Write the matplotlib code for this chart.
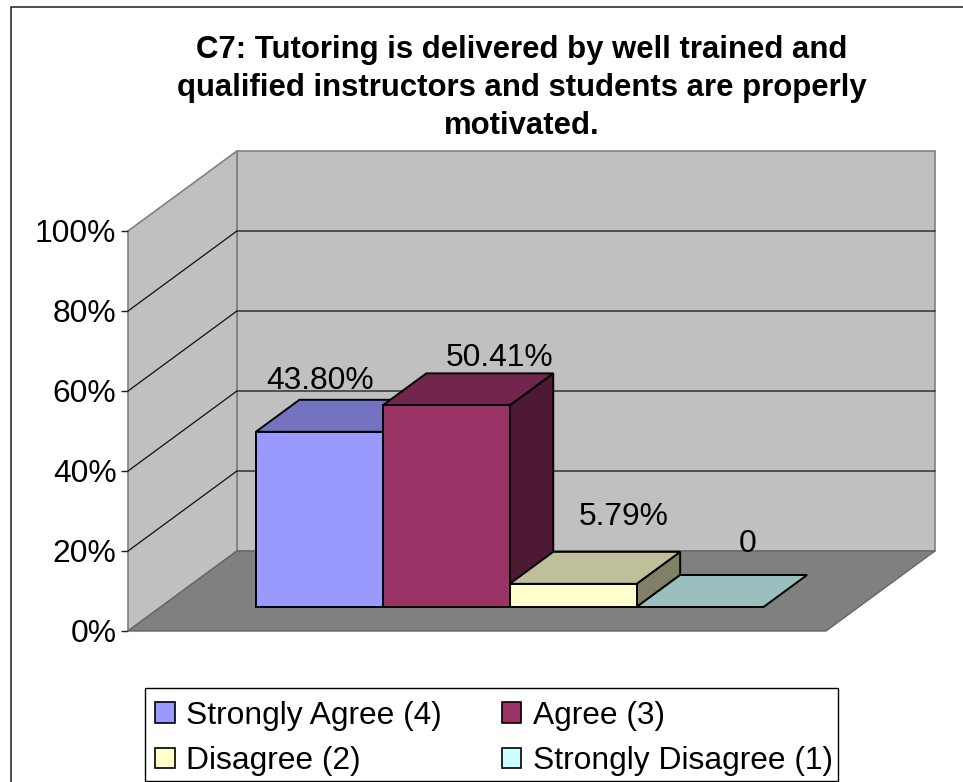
import matplotlib
matplotlib.use("Agg")
import matplotlib.pyplot as plt
from matplotlib.patches import Polygon, Rectangle

categories = ["Strongly Agree (4)", "Agree (3)", "Disagree (2)", "Strongly Disagree (1)"]
values = [43.80, 50.41, 5.79, 0.0]
value_labels = ["43.80%", "50.41%", "5.79%", "0"]
front_colors = ["#9999FF", "#993366", "#FFFFCC", "#CCFFFF"]
top_colors = ["#7373BF", "#73264D", "#BFBF99", "#99BFBF"]
side_colors = ["#4D4D80", "#4D1933", "#808066", "#668080"]
y_ticks = [0, 20, 40, 60, 80, 100]
title_lines = ["C7: Tutoring is delivered by well trained and",
               "qualified instructors and students are properly",
               "motivated."]

# label displacement from the front-top centre of each bar, in pixels
label_shift_px = [(0.5, 43), (53.5, 39), (51, 59), (47.5, 55)]

W, H = 963, 782
plt.rcParams['font.family'] = ['Liberation Sans', 'DejaVu Sans']
FS = 22.9
fig = plt.figure(figsize=(W / 100, H / 100), dpi=100, facecolor='white')

bg = fig.add_axes([0, 0, 1, 1], zorder=0)
bg.set_xlim(0, W); bg.set_ylim(H, 0); bg.axis('off')
bg.plot([10.5, 10.5, W], [H, 6.5, 6.5], color='#222222', lw=1.1, solid_joinstyle='miter')
bg.add_patch(Rectangle((145, 688), 693, 93, fc='white', ec='black', lw=1.0))

L, R, T, B = 128, 826, 231, 631
ax = fig.add_axes([L / W, (H - B) / H, (R - L) / W, (B - T) / H], zorder=1)
ax.set_xlim(0, 5.5); ax.set_ylim(0, 100)
ax.patch.set_visible(False)
for s in ax.spines.values():
    s.set_visible(False)

DX = 109 / 127
DY = 20

def P(x, v, d):
    return (x + d * DX, v + d * DY)

def poly(pts, fc, ec, lw, z):
    ax.add_patch(Polygon(pts, closed=True, fc=fc, ec=ec, lw=lw, zorder=z, clip_on=False, joinstyle='miter'))

X1 = 5.5
wall = '#C0C0C0'; edge = '#808080'
poly([P(0, 0, 1), P(X1, 0, 1), P(X1, 100, 1), P(0, 100, 1)], wall, edge, 1.2, 1)
poly([P(0, 0, 0), P(0, 0, 1), P(0, 100, 1), P(0, 100, 0)], wall, edge, 1.2, 1)
poly([P(0, 0, 0), P(X1, 0, 0), P(X1, 0, 1), P(0, 0, 1)], '#808080', '#666666', 1.0, 2)
for t in y_ticks[1:-1]:
    a, b, c = P(0, t, 0), P(0, t, 1), P(X1, t, 1)
    ax.plot([a[0], b[0], c[0]], [a[1], b[1], c[1]], color='#111111', lw=0.9, zorder=1.5, clip_on=False)

D0, D1 = 0.3, 0.7
for i, (v, lab) in enumerate(zip(values, value_labels)):
    x0, x1 = 0.75 + i, 1.75 + i
    z = 3 + i
    if v > 0:
        poly([P(x1, 0, D0), P(x1, 0, D1), P(x1, v, D1), P(x1, v, D0)], side_colors[i], 'black', 1.4, z)
    poly([P(x0, v, D0), P(x1, v, D0), P(x1, v, D1), P(x0, v, D1)], top_colors[i], 'black', 1.4, z)
    if v > 0:
        poly([P(x0, 0, D0), P(x1, 0, D0), P(x1, v, D0), P(x0, v, D0)], front_colors[i], 'black', 1.4, z)
    sx, sy = label_shift_px[i]
    ax.annotate(lab, xy=P(x0 + 0.5, v, D0), xytext=(sx * 0.72, sy * 0.72), textcoords='offset points',
                ha='center', va='baseline', fontsize=FS, color='black', zorder=10,
                annotation_clip=False)

ax.set_yticks(y_ticks)
ax.set_yticklabels([f"{t}%" for t in y_ticks], fontsize=FS)
ax.set_xticks([])
ax.tick_params(axis='y', length=5, width=1.0, pad=3.3, color='#222222')

for line, base in zip(title_lines, [58, 96, 134]):
    fig.text(521.5 / W, 1 - base / H, line, ha='center', va='baseline', fontsize=22.4,
             fontweight='bold', color='black')

handles = [Rectangle((0, 0), 1, 1, fc=c, ec='black', lw=1.2) for c in front_colors]
order = [0, 2, 1, 3]
leg = fig.legend([handles[i] for i in order], [categories[i] for i in order], ncol=2,
                 loc='lower left', bbox_to_anchor=(144 / W, 1 - 787 / H), bbox_transform=fig.transFigure,
                 fontsize=FS, frameon=False,
                 borderaxespad=0, borderpad=0.34, handlelength=0.62, handleheight=0.62,
                 handletextpad=0.36, columnspacing=1.88, labelspacing=0.48)
fig.savefig('out.png', dpi=100)
